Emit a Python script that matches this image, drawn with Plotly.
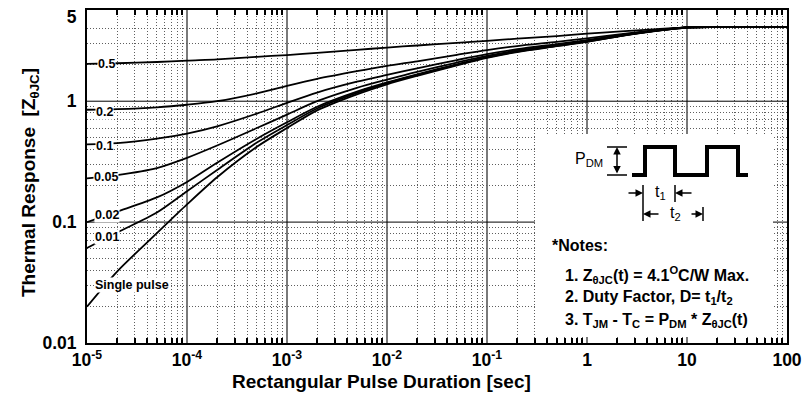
import math
import plotly.graph_objects as go

# ---------------- data ----------------
pulse_sec = [1e-5, 2e-5, 5e-5, 1e-4, 2e-4, 5e-4, 1e-3, 2e-3, 5e-3, 1e-2, 2e-2, 5e-2,
             0.1, 0.2, 0.5, 1, 2, 5, 10, 20, 50, 100]

z_d050 = [2.04, 2.06, 2.11, 2.17, 2.22, 2.33, 2.41, 2.51, 2.66, 2.78, 2.89, 3.04,
          3.16, 3.29, 3.46, 3.62, 3.77, 3.95, 4.08, 4.10, 4.10, 4.10]
z_d020 = [0.85, 0.86, 0.89, 0.935, 1.00, 1.16, 1.34, 1.53, 1.77, 1.96, 2.14, 2.42,
          2.65, 2.86, 3.10, 3.31, 3.56, 3.88, 4.08, 4.10, 4.10, 4.10]
z_d010 = [0.44, 0.45, 0.49, 0.54, 0.62, 0.79, 0.97, 1.18, 1.45, 1.65, 1.87, 2.19,
          2.45, 2.69, 2.97, 3.20, 3.49, 3.85, 4.08, 4.10, 4.10, 4.10]
z_d005 = [0.23, 0.245, 0.28, 0.34, 0.43, 0.60, 0.775, 1.00, 1.29, 1.51, 1.75, 2.09,
          2.37, 2.63, 2.91, 3.15, 3.46, 3.84, 4.08, 4.10, 4.10, 4.10]
z_d002 = [0.10, 0.122, 0.16, 0.215, 0.31, 0.49, 0.67, 0.90, 1.20, 1.43, 1.67, 2.02,
          2.32, 2.58, 2.88, 3.12, 3.44, 3.83, 4.07, 4.10, 4.10, 4.10]
z_d001 = [0.061, 0.082, 0.12, 0.18, 0.27, 0.455, 0.635, 0.87, 1.17, 1.41, 1.65, 2.00,
          2.30, 2.57, 2.87, 3.11, 3.43, 3.83, 4.07, 4.10, 4.10, 4.10]
z_single = [0.020, 0.039, 0.081, 0.14, 0.235, 0.42, 0.60, 0.84, 1.14, 1.38, 1.62, 1.98,
            2.28, 2.55, 2.85, 3.10, 3.42, 3.82, 4.07, 4.10, 4.10, 4.10]

series = [("0.5", z_d050), ("0.2", z_d020), ("0.1", z_d010), ("0.05", z_d005),
          ("0.02", z_d002), ("0.01", z_d001), ("Single pulse", z_single)]

x_decades = [1e-5, 1e-4, 1e-3, 1e-2, 1e-1, 1, 10, 100]
x_tick_text = ["10<sup>-5</sup>", "10<sup>-4</sup>", "10<sup>-3</sup>", "10<sup>-2</sup>",
               "10<sup>-1</sup>", "1", "10", "100"]
y_labeled = [0.01, 0.1, 1, 5]
y_tick_text = ["0.01", "0.1", "1", "5"]

# ---------------- layout geometry ----------------
W, H = 807, 402
L, R, T, B = 87, 20, 10, 59
PW, PH = W - L - R, H - T - B
Y_RANGE = [-2, 0.7545]
X_RANGE = [-5, 2]
FONT = "Liberation Sans, Arial, sans-serif"
DOT = dict(showgrid=True, gridcolor="#5e5e5e", gridwidth=1, griddash="1px,2px")


def pxx(x):
    return (x - L) / PW


def pxy(y):
    return (H - B - y) / PH


fig = go.Figure()
for name, vals in series:
    fig.add_trace(go.Scatter(x=pulse_sec, y=vals, mode="lines", name=name,
                             line=dict(color="black", width=1.8, shape="spline",
                                       smoothing=0.8),
                             showlegend=False, hoverinfo="skip"))
# invisible helper trace carrying the overlaid minor-grid axes
fig.add_trace(go.Scatter(x=pulse_sec[:1], y=z_single[:1], xaxis="x2", yaxis="y2",
                         mode="markers", marker=dict(opacity=0), showlegend=False,
                         hoverinfo="skip"))

x_minor = [m * 10.0 ** e for e in range(-5, 2) for m in range(2, 10)]
y_minor = [m * 10.0 ** e for e in (-2, -1) for m in range(2, 10)] + [2, 3, 4]

fig.update_layout(
    xaxis=dict(type="log", range=X_RANGE, tickmode="array", tickvals=x_decades,
               ticktext=["<b>%s</b>" % t for t in x_tick_text],
               tickfont=dict(family=FONT, size=17.5, color="black"),
               showgrid=True, gridcolor="#7a7a7a", gridwidth=1.8,
               ticks="", showline=True, linecolor="black", linewidth=2, mirror=True,
               zeroline=False),
    yaxis=dict(type="log", range=Y_RANGE, tickmode="array", tickvals=y_labeled,
               ticktext=["<b>%s</b>" % t for t in y_tick_text],
               tickfont=dict(family=FONT, size=17.5, color="black"),
               showgrid=False, ticks="", ticklabelstandoff=5,
               showline=True, linecolor="black", linewidth=2, mirror=True,
               zeroline=False),
    xaxis2=dict(type="log", range=X_RANGE, overlaying="x", anchor="y2", side="bottom",
                tickmode="array", tickvals=x_minor, showticklabels=False,
                ticks="inside", ticklen=5, tickwidth=1.5, tickcolor="black",
                mirror="ticks", showline=False, zeroline=False, **DOT),
    yaxis2=dict(type="log", range=Y_RANGE, overlaying="y", anchor="x2", side="left",
                tickmode="array", tickvals=y_minor, showticklabels=False,
                ticks="", showline=False, zeroline=False, **DOT),
)

shapes = []
# solid major horizontal grid lines at 0.1 and 1
for v in (0.1, 1):
    yd = (math.log10(v) - Y_RANGE[0]) / (Y_RANGE[1] - Y_RANGE[0])
    shapes.append(dict(type="line", xref="paper", yref="paper", x0=0, x1=1,
                       y0=yd, y1=yd, line=dict(color="black", width=1), layer="above"))
# white notes box
shapes.append(dict(type="rect", xref="paper", yref="paper",
                   x0=pxx(535), x1=pxx(773), y0=pxy(337), y1=pxy(134),
                   fillcolor="white", line=dict(width=0), layer="above"))
# pulse train waveform
wave = [(632, 175), (645, 175), (645, 147), (675, 147), (675, 175), (707, 175),
        (707, 147), (738, 147), (738, 175), (748, 175)]
path = "M " + " L ".join("%.5f,%.5f" % (pxx(a), pxy(b)) for a, b in wave)
shapes.append(dict(type="path", xref="paper", yref="paper", path=path,
                   line=dict(color="black", width=4), layer="above"))
# small bars and vertical markers
for (x0, y0, x1, y1) in [(607, 147, 627, 147), (607, 175, 627, 175),
                         (643, 185, 643, 221), (675, 185, 675, 202),
                         (703, 207, 703, 221)]:
    shapes.append(dict(type="line", xref="paper", yref="paper",
                       x0=pxx(x0), x1=pxx(x1), y0=pxy(y0), y1=pxy(y1),
                       line=dict(color="black", width=1.5), layer="above"))
fig.update_layout(shapes=shapes)

ann = []
# axis titles
ann.append(dict(text="<b>Rectangular Pulse Duration [sec]</b>", xref="paper", yref="paper",
                x=pxx(381), y=pxy(381), xanchor="center", yanchor="middle",
                showarrow=False, font=dict(family=FONT, size=19, color="black")))
ann.append(dict(text="<b>Thermal Response  [Z<sub>θJC</sub>]</b>", xref="paper",
                yref="paper", x=pxx(30), y=pxy(183), xanchor="center", yanchor="middle",
                textangle=-90, showarrow=False,
                font=dict(family=FONT, size=19, color="black")))

# curve labels
label_pos = {"0.5": (97, 64), "0.2": (95, 112), "0.1": (95, 146), "0.05": (93, 177),
             "0.02": (94, 215), "0.01": (94, 237), "Single pulse": (94, 285)}
for name, _ in series:
    lx, ly = label_pos[name]
    ann.append(dict(text="<b>%s</b>" % name, xref="paper", yref="paper",
                    x=pxx(lx), y=pxy(ly), xanchor="left", yanchor="middle",
                    showarrow=False, bgcolor="white", borderpad=0,
                    font=dict(family=FONT, size=12.5, color="black")))

# arrows
arrow_common = dict(xref="paper", yref="paper", text="", showarrow=True,
                    arrowhead=2, arrowsize=1, arrowwidth=1.5, arrowcolor="black",
                    standoff=0, startstandoff=0)
ann.append(dict(x=pxx(617), y=pxy(147), ax=0, ay=28, arrowside="end+start", **arrow_common))
ann.append(dict(x=pxx(643), y=pxy(193), ax=-16, ay=0, **arrow_common))
ann.append(dict(x=pxx(675), y=pxy(193), ax=18, ay=0, **arrow_common))
ann.append(dict(x=pxx(643), y=pxy(214), ax=17, ay=0, **arrow_common))
ann.append(dict(x=pxx(703), y=pxy(214), ax=-13, ay=0, **arrow_common))

plain = dict(family=FONT, size=16, color="black")
for txt, tx, ty in [("P<sub>DM</sub>", 589, 160), ("t<sub>1</sub>", 660, 192),
                    ("t<sub>2</sub>", 675, 213)]:
    ann.append(dict(text=txt, xref="paper", yref="paper", x=pxx(tx), y=pxy(ty),
                    xanchor="center", yanchor="middle", showarrow=False, font=plain))

notes = [("*Notes:", 550, 245),
         ("1. Z<sub>θJC</sub>(t) = 4.1<sup>O</sup>C/W Max.", 563, 275),
         ("2. Duty Factor, D= t<sub>1</sub>/t<sub>2</sub>", 563, 297),
         ("3. T<sub>JM</sub> - T<sub>C</sub> = P<sub>DM</sub> * Z<sub>θJC</sub>(t)", 563, 320)]
for txt, nx, ny in notes:
    ann.append(dict(text="<b>%s</b>" % txt, xref="paper", yref="paper",
                    x=pxx(nx), y=pxy(ny), xanchor="left", yanchor="middle",
                    showarrow=False, font=dict(family=FONT, size=16, color="black")))

fig.update_layout(annotations=ann, width=W, height=H,
                  margin=dict(l=L, r=R, t=T, b=B, autoexpand=False),
                  paper_bgcolor="white", plot_bgcolor="white",
                  font=dict(family=FONT, color="black"))

fig.write_html("out.html", config={"displayModeBar": False})
